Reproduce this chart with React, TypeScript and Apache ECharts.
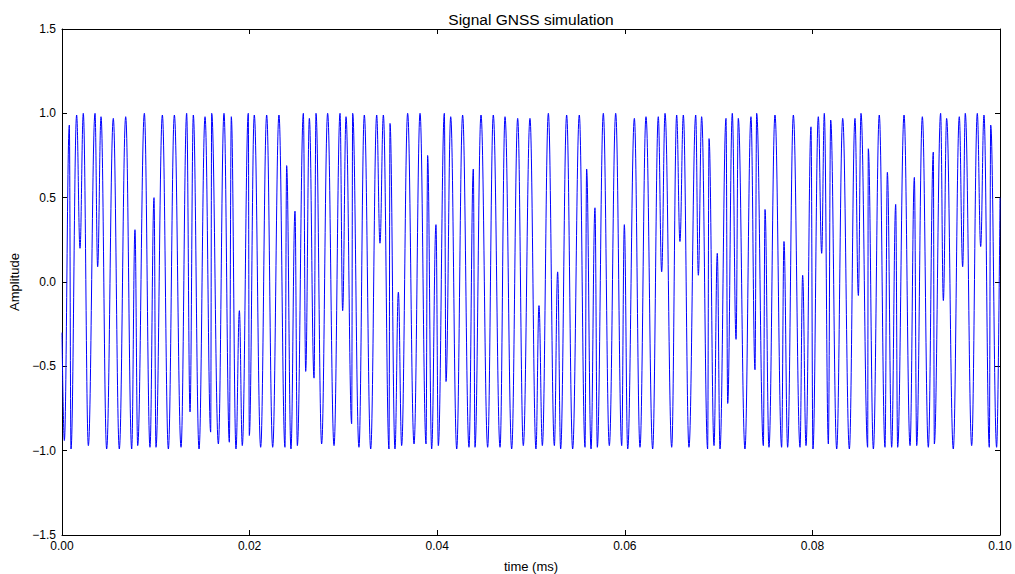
import React, { useEffect, useRef } from "react";
import * as echarts from "echarts";

const timeUs = [
  0.0, 0.25, 0.78, 0.96, 1.56, 1.92, 2.27, 2.81, 3.52, 3.8, 4.16, 4.76, 5.47, 6.11, 6.79, 7.43, 7.78, 8.07, 8.78, 9.38,
  9.81, 10.02, 10.7, 11.34, 11.98, 12.69, 13.29, 13.65, 14.0, 14.61, 15.25, 15.85, 15.96,
  16.67, 17.27, 17.84, 18.05, 18.55, 18.91, 19.22, 19.86, 19.97, 20.5, 21.18, 21.82, 22.46, 23.13, 23.77, 23.95, 24.41,
  24.84, 25.09, 25.73, 25.98, 26.37, 26.87, 27.08, 27.68, 28.32, 29.0, 29.64, 29.92, 30.28, 30.88, 30.99, 31.66, 32.23,
  32.91, 33.55, 33.9, 34.26, 34.86, 34.97, 35.5, 35.86, 36.21, 36.85, 37.53, 38.17, 38.81, 38.98, 39.41, 39.87, 40.12,
  40.76, 40.94, 41.44, 42.08, 42.71, 43.39, 43.85, 44.03, 44.67, 45.38, 45.98, 46.7, 47.23, 47.94, 48.58, 49.18,
  49.89, 50.53, 50.85, 51.21, 51.85, 52.49, 52.84, 53.16, 53.8, 54.44, 55.15, 55.76, 55.93, 56.4, 56.82, 57.07, 57.71,
  58.35, 59.03, 59.67, 59.95, 60.31, 61.02, 61.62, 62.26, 62.97, 63.57, 63.93, 64.29, 65.0, 65.53,
  65.88, 66.24, 66.84, 67.56, 67.84, 68.19, 68.83, 68.98, 69.51, 69.86, 70.15, 70.79, 70.97, 71.46, 71.86, 72.1, 72.81,
  73.45, 73.88, 74.06, 74.77, 74.95, 75.37, 76.01, 76.72, 76.97, 77.36, 77.97, 78.68, 78.96, 79.32, 79.85, 80.06, 80.63,
  80.99, 81.27, 81.7, 81.95,
  82.59, 83.23, 83.94, 84.54, 84.9, 85.18, 85.89, 85.96, 86.5, 87.13, 87.74, 87.99, 88.45, 88.88, 89.09, 89.77, 90.41,
  90.87, 91.12, 91.72, 92.36, 92.89, 93.0, 93.67, 93.96, 94.31, 95.02, 95.66, 96.02, 96.3, 96.98, 97.58, 97.94, 98.29,
  98.86, 99.01, 99.64, 100.0,
];

const amplitude = [
  -0.3, -0.94, 0.93, -0.99, 0.99, 0.2, 1.0, -0.97, 1.0, 0.09, 0.98, -0.99, 0.97, -0.99, 0.98, -0.99, 0.31, -0.97, 1.0, -0.98,
  0.5, -0.98, 0.99, -0.99, 0.99, -0.98, 1.0, -0.77, 0.99, -0.99, 0.98, -0.89, 1.0,
  -0.96, 1.0, -0.95, 0.98, -0.99, -0.17, -0.97, 1.0, -0.91, 0.99, -0.98, 0.99, -0.98, 0.99, -0.98, 0.69, -0.99,
  0.42, -0.97, 1.0, -0.53, 0.97, -0.57, 1.0, -0.96, 1.0, -0.97, 1.0, -0.17, 0.98, -0.84, 1.0, -0.98, 0.99,
  -0.99, 0.99, 0.23, 0.99, -0.99, 0.94, -0.99, -0.06, -0.97, 1.0, -0.96, 1.0, -0.96, 0.75, -0.99, 0.34, -0.97,
  1.0, -0.59, 0.98, -0.99, 0.99, -0.98, 0.67, -0.98, 0.99, -0.98, 0.99, -0.98, 0.98, -0.99, 0.97, -0.97,
  0.97, -0.99, -0.14, -0.97, 1.0, -0.97, 0.06, -0.99, 0.99, -0.99, 0.99, -0.98, 0.67, -0.99, 0.44, -0.98, 1.0,
  -0.97, 1.0, -0.97, 0.34, -0.99, 0.97, -0.98, 0.98, -0.99, 0.98, 0.06, 1.0, -0.98, 0.99,
  0.24, 0.99, -0.98, 0.99, 0.04, 0.98, -0.99, 0.85, -0.97, 0.17, -0.99, 0.97, -0.72, 1.0, -0.34, 0.97, -0.99,
  0.98, -0.52, 1.0, -0.97, 0.43, -0.98, 0.99, -0.98, 0.24, -0.98, 0.99, -0.98, 0.04, -0.97, 0.92, -0.99, 0.98,
  0.17, 1.0, -0.96, 0.96,
  -0.99, 0.97, -0.99, 0.97, -0.08, 1.0, -0.98, 0.79, -0.99, 0.99, -0.98, 0.65, -0.98, 0.46, -0.98, 0.99, -0.97,
  0.62, -0.97, 0.98, -0.98, 0.77, -0.96, 1.0, -0.11, 0.97, -0.99, 0.98, 0.09, 1.0, -0.97, 1.0, 0.21, 0.99,
  -0.98, 0.93, -0.98, 0.5,
];

const xTicks = [0, 0.02, 0.04, 0.06, 0.08, 0.1];
const yTicks = [-1.5, -1.0, -0.5, 0.0, 0.5, 1.0, 1.5];

const TITLE = "Signal GNSS simulation";
const X_NAME = "time (ms)";
const Y_NAME = "Amplitude";

const FONT = "'Liberation Sans', Arial, sans-serif";

const fmtY = (v: number) => (v < 0 ? "\u2212" + Math.abs(v).toFixed(1) : v.toFixed(1));
const fmtX = (v: number) => v.toFixed(2);

export default function App() {
  const ref = useRef<HTMLDivElement>(null);

  useEffect(() => {
    document.body.style.margin = "0";
    if (!ref.current) return;
    const chart = echarts.init(ref.current, undefined, { renderer: "svg" });
    const data = timeUs.map((t, i) => [t / 1000, amplitude[i]]);
    const tickStyle = { show: true, inside: true, length: 5, lineStyle: { color: "#000", width: 1 } };
    const lineAxis = { show: true, onZero: false, lineStyle: { color: "#000", width: 1 } };
    const xBase = {
      type: "value" as const,
      min: xTicks[0],
      max: xTicks[xTicks.length - 1],
      interval: xTicks[1] - xTicks[0],
      splitLine: { show: false },
      axisLine: lineAxis,
      axisTick: tickStyle,
    };
    const yBase = {
      type: "value" as const,
      min: yTicks[0],
      max: yTicks[yTicks.length - 1],
      interval: yTicks[1] - yTicks[0],
      splitLine: { show: false },
      axisLine: lineAxis,
      axisTick: tickStyle,
    };
    chart.setOption({
      animation: false,
      backgroundColor: "#ffffff",
      textStyle: { fontFamily: FONT },
      grid: { left: 62, right: 15, top: 29, bottom: 39, containLabel: false, outerBoundsMode: "none" },
      graphic: [
        {
          type: "text",
          x: 531,
          y: 19,
          style: {
            text: TITLE,
            fill: "#000",
            font: `15.5px ${FONT}`,
            textAlign: "center",
            textVerticalAlign: "middle",
          },
        },
      ],
      xAxis: [
        {
          ...xBase,
          position: "bottom",
          name: X_NAME,
          nameLocation: "middle",
          nameGap: 25,
          nameTextStyle: { color: "#000", fontSize: 13, fontFamily: FONT },
          axisLabel: { color: "#000", fontSize: 12, fontFamily: FONT, margin: 5, formatter: fmtX },
        },
        { ...xBase, position: "top", axisLabel: { show: false } },
      ],
      yAxis: [
        {
          ...yBase,
          position: "left",
          name: Y_NAME,
          nameLocation: "middle",
          nameGap: 39,
          nameRotate: 90,
          nameTextStyle: { color: "#000", fontSize: 13, fontFamily: FONT },
          axisLabel: { color: "#000", fontSize: 12, fontFamily: FONT, margin: 6, formatter: fmtY },
        },
        { ...yBase, position: "right", axisLabel: { show: false } },
      ],
      series: [
        {
          type: "line",
          xAxisIndex: 0,
          yAxisIndex: 0,
          data,
          showSymbol: false,
          symbol: "none",
          smooth: 0.4,
          smoothMonotone: "x",
          clip: true,
          lineStyle: { color: "#0000ff", width: 1 },
        },
      ],
    });
    return () => chart.dispose();
  }, []);

  return (
    <div
      ref={ref}
      style={{ position: "fixed", left: 0, top: 0, width: 1015, height: 574, background: "#fff" }}
    />
  );
}
